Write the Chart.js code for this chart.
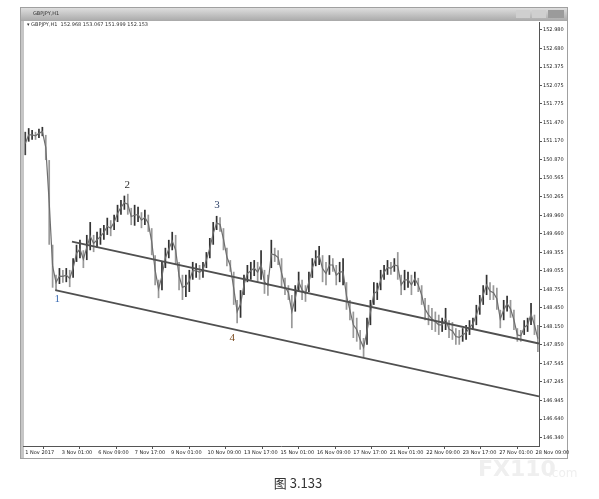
<!DOCTYPE html>
<html>
<head>
<meta charset="utf-8">
<script src="https://cdn.jsdelivr.net/npm/chart.js@4.4.0/dist/chart.umd.min.js"></script>
<style>
  body { margin: 0; background: #fff; }
  canvas { display: block; }
</style>
</head>
<body>
<canvas id="chartGbpJpy" width="599" height="499"></canvas>
<script>
(function () {
  document.addEventListener("DOMContentLoaded", init)

  // one sample = 3 hourly bars
  var barStep = 3;
  var highs = [151.32, 151.38, 151.35, 151.32, 151.37, 151.40, 151.27, 150.86, 149.48, 148.99,
               149.10, 149.07, 149.10, 149.07, 149.26, 149.48, 149.56, 149.39, 149.64, 149.85,
               149.64, 149.69, 149.75, 149.80, 149.92, 149.88, 149.97, 150.13, 150.21, 150.28,
               150.31, 150.08, 150.13, 150.10, 150.01, 150.05, 149.97, 149.75, 149.31, 148.91,
               149.20, 149.43, 149.56, 149.69, 149.64, 149.20, 148.99, 148.99, 149.07, 149.20,
               149.18, 149.15, 149.20, 149.36, 149.59, 149.85, 149.95, 149.93, 149.75, 149.43,
               149.23, 149.04, 148.58, 148.74, 148.99, 149.15, 149.20, 149.23, 149.20, 149.39,
               149.07, 148.99, 149.56, 149.43, 149.39, 149.26, 148.94, 148.82, 148.66, 148.82,
               149.04, 148.91, 148.82, 149.04, 149.26, 149.39, 149.46, 149.31, 149.20, 149.31,
               149.26, 149.15, 149.20, 149.26, 148.87, 148.58, 148.39, 148.29, 148.09, 147.96,
               148.29, 148.58, 148.87, 148.86, 149.07, 149.15, 149.23, 149.20, 149.26, 149.36,
               148.99, 149.07, 149.04, 148.99, 149.04, 148.94, 148.82, 148.61, 148.50, 148.45,
               148.39, 148.34, 148.29, 148.45, 148.25, 148.22, 148.12, 148.09, 148.12, 148.17,
               148.25, 148.29, 148.50, 148.66, 148.82, 148.99, 148.87, 148.82, 148.78, 148.42,
               148.58, 148.65, 148.58, 148.42, 148.12, 148.09, 148.25, 148.29, 148.53, 148.34,
               148.17];
  var lows = [150.94, 151.16, 151.19, 151.19, 151.22, 151.25, 150.86, 149.48, 148.78, 148.74,
              148.84, 148.86, 148.87, 148.79, 148.94, 149.20, 149.26, 149.10, 149.23, 149.39,
              149.36, 149.43, 149.48, 149.56, 149.64, 149.62, 149.72, 149.85, 149.97, 150.05,
              149.97, 149.80, 149.79, 149.85, 149.75, 149.80, 149.69, 149.31, 148.82, 148.61,
              148.74, 149.10, 149.26, 149.39, 149.15, 148.74, 148.58, 148.63, 148.71, 148.91,
              148.94, 148.91, 148.94, 149.10, 149.26, 149.48, 149.72, 149.69, 149.39, 149.13,
              149.04, 148.50, 148.20, 148.29, 148.66, 148.87, 148.91, 148.97, 148.87, 148.91,
              148.68, 148.65, 149.10, 149.20, 149.15, 148.78, 148.66, 148.58, 148.12, 148.39,
              148.71, 148.58, 148.55, 148.71, 148.94, 149.13, 149.15, 148.87, 148.82, 148.99,
              149.04, 148.82, 148.87, 148.82, 148.42, 148.25, 147.96, 147.90, 147.77, 147.65,
              147.85, 148.17, 148.50, 148.58, 148.74, 148.91, 148.99, 148.99, 149.04, 148.91,
              148.66, 148.74, 148.78, 148.66, 148.81, 148.71, 148.50, 148.25, 148.17, 148.09,
              148.06, 148.01, 148.06, 148.09, 147.96, 147.93, 147.85, 147.85, 147.90, 147.93,
              148.01, 148.09, 148.17, 148.34, 148.50, 148.66, 148.58, 148.58, 148.42, 148.12,
              148.25, 148.39, 148.29, 148.09, 147.90, 147.90, 148.01, 148.06, 148.17, 148.01,
              147.73];

  var xTickBars = [0, 32, 64, 96, 128, 160, 192, 224, 256, 288, 320, 352, 384, 416, 448];
  var xTickLabels = ["1 Nov 2017", "3 Nov 01:00", "6 Nov 09:00", "7 Nov 17:00", "9 Nov 01:00",
                     "10 Nov 09:00", "13 Nov 17:00", "15 Nov 01:00", "16 Nov 09:00", "17 Nov 17:00",
                     "21 Nov 01:00", "22 Nov 09:00", "23 Nov 17:00", "27 Nov 01:00", "28 Nov 09:00"];
  var yTickValues = [152.980, 152.680, 152.375, 152.075, 151.775, 151.470, 151.170, 150.870,
                     150.565, 150.265, 149.960, 149.660, 149.355, 149.055, 148.755, 148.450,
                     148.150, 147.850, 147.545, 147.245, 146.945, 146.640, 146.340];

  // trend lines: [bar, price]
  var upperLine = [[41, 149.53], [451, 147.87]];
  var lowerLine = [[26.3, 148.74], [451, 147.01]];

  var waveNames = ["1", "2", "3", "4"];
  var waveBars = [28, 89.5, 168.4, 181.6];
  var wavePrices = [148.60, 150.45, 150.13, 147.96];
  var waveColors = ["#3b6cb4", "#333333", "#2b3f66", "#7a4a1e"];

  function init() {
    var barData = highs.map(function (h, i) {
      return { x: i * barStep, y: [lows[i], h] };
    });
    var midData = highs.map(function (h, i) {
      return { x: i * barStep, y: (h + lows[i]) / 2 };
    });
    var barColors = highs.map(function (h, i) {
      if (i === 0) return '#444';
      return (h + lows[i]) >= (highs[i - 1] + lows[i - 1]) ? '#333333' : '#999999';
    });
    var toPoints = function (arr) {
      return arr.map(function (p) { return { x: p[0], y: p[1] }; });
    };

    /**
     * window frame, title bar and caption
     */
    var framePlugin = {
      id: 'frame',
      beforeDraw: function (chart) {
        var ctx = chart.ctx;
        ctx.save();
        ctx.fillStyle = '#fff';
        ctx.fillRect(0, 0, 599, 499);
        var g = ctx.createLinearGradient(0, 7, 0, 21);
        g.addColorStop(0, '#e2e2e2');
        g.addColorStop(1, '#a9a9a9');
        ctx.fillStyle = g;
        ctx.fillRect(20, 7, 548, 14);
        // buttons
        ctx.fillStyle = '#cfcfcf';
        ctx.fillRect(516, 10, 14, 8);
        ctx.fillRect(532, 10, 14, 8);
        ctx.fillStyle = '#9b9b9b';
        ctx.fillRect(548, 10, 16, 8);
        ctx.fillStyle = '#c6c6c6';
        ctx.fillRect(20, 21, 4, 437);
        ctx.strokeStyle = '#a0a0a0';
        ctx.lineWidth = 1;
        ctx.strokeRect(20.5, 7.5, 547, 451);
        ctx.fillStyle = '#333';
        ctx.font = '5px "DejaVu Sans"';
        ctx.textBaseline = 'middle';
        ctx.fillText('GBPJPY,H1', 33, 14);
        ctx.fillText('\u25BE GBPJPY,H1  152.968 153.067 151.999 152.153', 27, 25);
        ctx.restore();
      },
      afterDraw: function (chart) {
        var ctx = chart.ctx;
        var xs = chart.scales.x, ys = chart.scales.y;
        ctx.save();
        ctx.font = '11px "Liberation Serif"';
        ctx.textAlign = 'center';
        ctx.textBaseline = 'middle';
        waveNames.forEach(function (n, i) {
          ctx.fillStyle = waveColors[i];
          ctx.fillText(n, xs.getPixelForValue(waveBars[i]), ys.getPixelForValue(wavePrices[i]));
        });
        ctx.fillStyle = '#efefef';
        ctx.font = 'bold 22px "DejaVu Sans"';
        ctx.textAlign = 'left';
        ctx.fillText('FX110', 478, 470);
        ctx.font = '12px "DejaVu Sans"';
        ctx.fillText('.com', 548, 474);
        ctx.fillStyle = '#333';
        ctx.font = '13px "Noto Sans CJK SC"';
        ctx.textAlign = 'center';
        ctx.fillText('图 3.133', 298, 483);
        ctx.restore();
      }
    };

    var ctx = document.getElementById('chartGbpJpy').getContext('2d');
    var chartGbpJpy = new Chart(ctx, {
      type: 'bar',
      data: {
        datasets: [{
          label: 'GBPJPY,H1',
          data: barData,
          backgroundColor: barColors,
          borderWidth: 0,
          barPercentage: 1,
          categoryPercentage: 0.5,
          order: 3
        }, {
          type: 'line',
          label: 'path',
          data: midData,
          borderColor: '#6e6e6e',
          borderWidth: 1.2,
          pointRadius: 0,
          order: 2
        }, {
          type: 'line',
          label: 'upper',
          data: toPoints(upperLine),
          borderColor: '#505050',
          borderWidth: 1.8,
          pointRadius: 0,
          order: 1
        }, {
          type: 'line',
          label: 'lower',
          data: toPoints(lowerLine),
          borderColor: '#505050',
          borderWidth: 1.8,
          pointRadius: 0,
          order: 1
        }]
      },
      options: {
        responsive: false,
        animation: false,
        layout: { padding: { left: 23, top: 22, right: 32, bottom: 41 } },
        plugins: { legend: { display: false }, tooltip: { enabled: false } },
        scales: {
          x: {
            type: 'linear',
            min: -2,
            max: 451,
            offset: false,
            afterBuildTicks: function (scale) {
              scale.ticks = xTickBars.map(function (v) { return { value: v }; });
            },
            afterFit: function (scale) { scale.height = 12; },
            ticks: {
              autoSkip: false,
              maxRotation: 0,
              align: 'start',
              padding: 1,
              color: '#222',
              font: { size: 5, family: 'DejaVu Sans' },
              callback: function (v, i) { return xTickLabels[i]; }
            },
            grid: { drawOnChartArea: false, tickLength: 3, color: '#555' },
            border: { display: true, color: '#555', width: 1 }
          },
          y: {
            position: 'right',
            min: 146.20,
            max: 153.11,
            afterBuildTicks: function (scale) {
              scale.ticks = yTickValues.map(function (v) { return { value: v }; });
            },
            afterFit: function (scale) { scale.width = 28; },
            ticks: {
              padding: 1,
              color: '#222',
              font: { size: 5, family: 'DejaVu Sans' },
              callback: function (v) { return v.toFixed(3); }
            },
            grid: { drawOnChartArea: false, tickLength: 3, color: '#555' },
            border: { display: true, color: '#555', width: 1 }
          }
        }
      },
      plugins: [framePlugin]
    });
  }
})();
</script>
</body>
</html>
